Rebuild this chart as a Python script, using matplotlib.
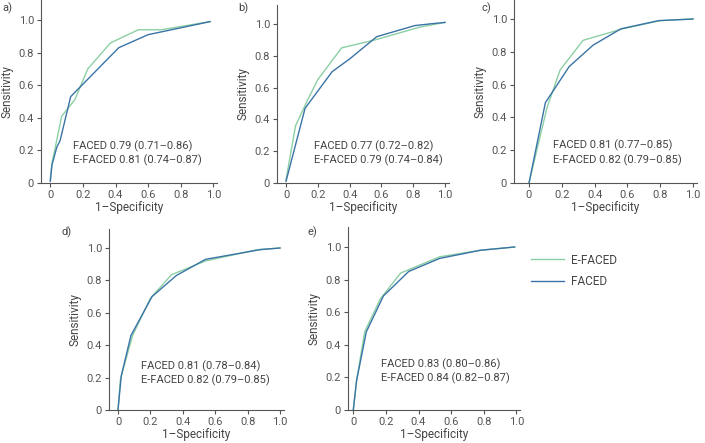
import matplotlib
matplotlib.use('Agg')
import matplotlib.pyplot as plt

plt.rcParams['font.family'] = ['Roboto', 'DejaVu Sans']

# ROC curve points: (1-specificity, sensitivity)
a_efaced_x = [0.0, 0.01, 0.07, 0.15, 0.23, 0.37, 0.54, 0.68, 0.98]
a_efaced_y = [0.02, 0.12, 0.41, 0.51, 0.70, 0.86, 0.94, 0.94, 0.99]
a_faced_x = [0.0, 0.01, 0.04, 0.06, 0.125, 0.42, 0.60, 0.98]
a_faced_y = [0.01, 0.11, 0.22, 0.26, 0.53, 0.83, 0.91, 0.99]

b_efaced_x = [0.0, 0.06, 0.13, 0.20, 0.35, 0.56, 0.84, 1.0]
b_efaced_y = [0.02, 0.36, 0.51, 0.65, 0.85, 0.90, 0.98, 1.01]
b_faced_x = [0.0, 0.12, 0.29, 0.40, 0.57, 0.81, 0.90, 1.0]
b_faced_y = [0.01, 0.47, 0.70, 0.78, 0.92, 0.99, 1.0, 1.01]

c_efaced_x = [0.0, 0.11, 0.19, 0.33, 0.57, 0.80, 1.0]
c_efaced_y = [0.0, 0.46, 0.69, 0.87, 0.94, 0.99, 1.0]
c_faced_x = [0.0, 0.10, 0.245, 0.39, 0.56, 0.79, 1.0]
c_faced_y = [0.0, 0.49, 0.71, 0.84, 0.94, 0.99, 1.0]

d_efaced_x = [0.0, 0.015, 0.09, 0.20, 0.33, 0.54, 0.86, 1.0]
d_efaced_y = [0.0, 0.19, 0.46, 0.69, 0.835, 0.92, 0.99, 1.0]
d_faced_x = [0.0, 0.02, 0.08, 0.21, 0.36, 0.54, 0.88, 1.0]
d_faced_y = [0.0, 0.21, 0.46, 0.70, 0.83, 0.93, 0.99, 1.0]

e_efaced_x = [0.0, 0.02, 0.07, 0.165, 0.29, 0.53, 0.78, 0.99]
e_efaced_y = [0.0, 0.18, 0.48, 0.68, 0.84, 0.94, 0.98, 1.0]
e_faced_x = [0.0, 0.02, 0.08, 0.185, 0.34, 0.53, 0.78, 0.99]
e_faced_y = [0.0, 0.18, 0.48, 0.70, 0.85, 0.93, 0.98, 1.0]

faced_auc = ['FACED 0.79 (0.71\u20130.86)', 'FACED 0.77 (0.72\u20130.82)',
             'FACED 0.81 (0.77\u20130.85)', 'FACED 0.81 (0.78\u20130.84)',
             'FACED 0.83 (0.80\u20130.86)']
efaced_auc = ['E-FACED 0.81 (0.74\u20130.87)', 'E-FACED 0.79 (0.74\u20130.84)',
              'E-FACED 0.82 (0.79\u20130.85)', 'E-FACED 0.82 (0.79\u20130.85)',
              'E-FACED 0.84 (0.82\u20130.87)']
panel_labels = ['a)', 'b)', 'c)', 'd)', 'e)']
ticks = [0, 0.2, 0.4, 0.6, 0.8, 1.0]
tick_labels = ['0', '0.2', '0.4', '0.6', '0.8', '1.0']

GREEN = '#8ccfa4'
BLUE = '#3a74a6'
GREY = '#555555'
TXT = '#444444'

W, H = 705, 443
fig = plt.figure(figsize=(W / 100, H / 100), dpi=100)

# pixel layout: (spine x, x of 0, px per unit, y of 0, text x, text y)
layout = [
    (41, 50.3, 163, 183, 0.137, 0.227),
    (277, 286, 159, 183, 0.176, 0.233),
    (514, 529, 164, 183, 0.148, 0.230),
    (109, 118, 162, 410, 0.140, 0.273),
    (348, 353.3, 163, 410, 0.168, 0.283),
]
curves = [
    (a_efaced_x, a_efaced_y, a_faced_x, a_faced_y),
    (b_efaced_x, b_efaced_y, b_faced_x, b_faced_y),
    (c_efaced_x, c_efaced_y, c_faced_x, c_faced_y),
    (d_efaced_x, d_efaced_y, d_faced_x, d_faced_y),
    (e_efaced_x, e_efaced_y, e_faced_x, e_faced_y),
]
label_pos = [(2, 8), (238, 8), (482, 8), (62, 232), (307, 232)]

for i, (sx, x0, ppu, y0, tx, ty) in enumerate(layout):
    xmin = -(x0 - sx) / ppu
    xmax = 1.025
    ymax = 1.12
    ax = fig.add_axes([sx / W, (H - y0) / H, (xmax - xmin) * ppu / W, ymax * ppu / H])
    ex, ey, fx, fy = curves[i]
    ax.plot(ex, ey, color=GREEN, lw=1.0, label='E-FACED')
    ax.plot(fx, fy, color=BLUE, lw=1.0, label='FACED')
    ax.set_xlim(xmin, xmax)
    ax.set_ylim(0, ymax)
    ax.set_xticks(ticks)
    ax.set_xticklabels(tick_labels)
    ax.set_yticks(ticks)
    ax.set_yticklabels(tick_labels)
    for s in ['top', 'right']:
        ax.spines[s].set_visible(False)
    for s in ['left', 'bottom']:
        ax.spines[s].set_color(GREY)
        ax.spines[s].set_linewidth(0.8)
    ax.tick_params(colors=GREY, labelcolor='#555555', labelsize=8, length=3, width=0.8, pad=2)
    ax.set_xlabel('1\u2013Specificity', fontsize=8.5, color=TXT, labelpad=1)
    ax.set_ylabel('Sensitivity', fontsize=8.5, color=TXT, labelpad=4)
    ax.text(tx, ty, faced_auc[i], fontsize=8, color=TXT, va='center')
    ax.text(tx, ty - 0.09, efaced_auc[i], fontsize=8, color=TXT, va='center')
    lx, ly = label_pos[i]
    fig.text(lx / W, 1 - ly / H, panel_labels[i], fontsize=8, color=TXT, va='center')
    if i == 4:
        handles, labels = ax.get_legend_handles_labels()
        fig.legend(handles, labels, loc='upper left', bbox_to_anchor=(520 / W, 1 - 243 / H),
                   frameon=False, fontsize=8.5, handlelength=2.8, labelspacing=0.7,
                   handletextpad=0.6, labelcolor=TXT)

fig.savefig('out.png', dpi=100)
